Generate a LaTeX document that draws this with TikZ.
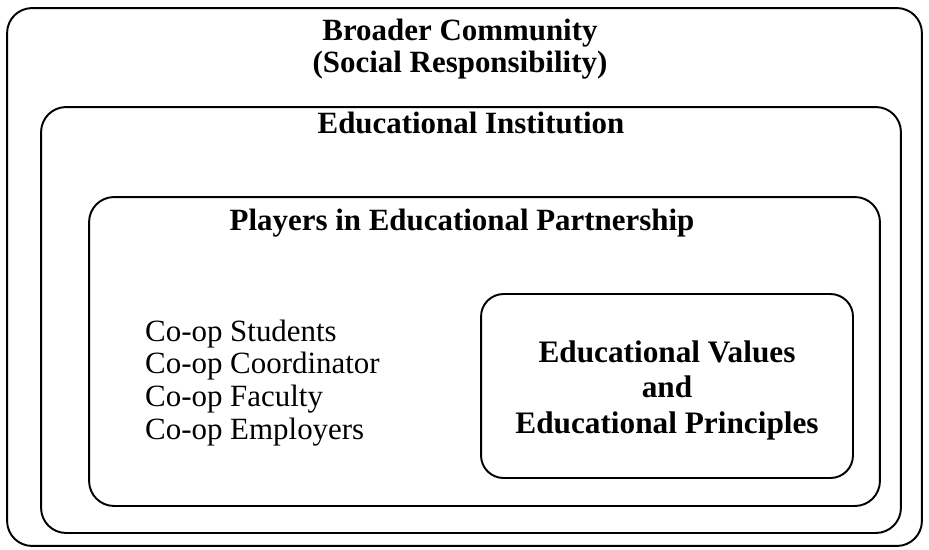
\documentclass[tikz,border=0pt]{standalone}
\usepackage{fontspec}
\setmainfont{Liberation Serif}
\usetikzlibrary{positioning}

\begin{document}
\begin{tikzpicture}[x=0.02cm, y=-0.02cm,
	box/.style={rectangle, draw, line width=1.1pt, rounded corners=0.5cm},
	heading/.style={font=\fontsize{17.6}{18.2}\selectfont\bfseries, align=center},
	players/.style={font=\fontsize{17.6}{18.7}\selectfont, align=left}]
				\useasboundingbox (0,0) rectangle (929,549);
				\node[box, minimum width=18.3cm, minimum height=10.76cm] (comm) at (464.5,277) {};
				\node[box, minimum width=17.2cm, minimum height=8.52cm] (inst) at (471,320) {};
				\node[box, minimum width=15.82cm, minimum height=6.18cm] (partner) at (484.5,351.5) {};
				\node[box, rounded corners=0.45cm, minimum width=7.44cm, minimum height=3.68cm] (values) at (667,386) {};
				
				\node[heading] (commtxt) at (460,49) {Broader Community\\(Social Responsibility)};
				\node[heading] (insttxt) at (471,123) {Educational Institution};
				\node[heading] (partnertxt) at (462,223) {Players in Educational Partnership};
				\node[players, anchor=west] (playerlist) at (139,383) {Co-op Students\\Co-op Coordinator\\Co-op Faculty\\Co-op Employers};
				\node[heading, font=\fontsize{17.8}{20.2}\selectfont\bfseries] (valuestxt) at (667,390) {Educational Values\\and\\Educational Principles};
				\end{tikzpicture}
\end{document}
